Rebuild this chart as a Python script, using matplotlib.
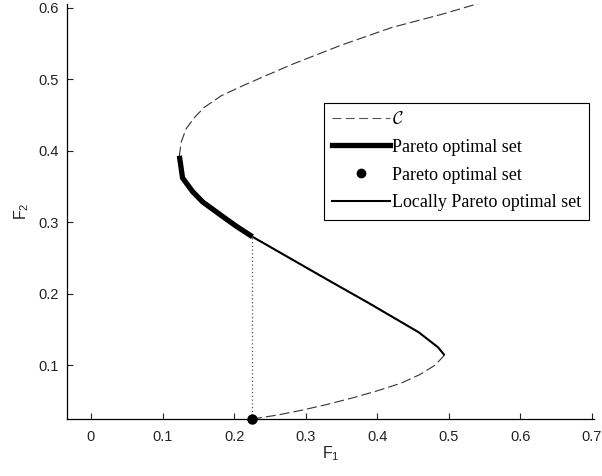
import matplotlib
matplotlib.use("Agg")
import matplotlib.pyplot as plt
from matplotlib.lines import Line2D

# Curve C (dashed), ordered along the curve
c_f1 = [0.225, 0.260, 0.295, 0.330, 0.365, 0.400, 0.434, 0.460, 0.481, 0.494,
        0.485, 0.458, 0.388, 0.328, 0.225,
        0.203, 0.180, 0.156, 0.142, 0.128, 0.1235,
        0.126, 0.133, 0.145, 0.1585, 0.182, 0.214, 0.251, 0.281,
        0.350, 0.420, 0.490, 0.541]
c_f2 = [0.0246, 0.030, 0.037, 0.045, 0.054, 0.064, 0.075, 0.087, 0.100, 0.114,
        0.125, 0.146, 0.187, 0.221, 0.280,
        0.2945, 0.311, 0.3285, 0.343, 0.362, 0.393,
        0.412, 0.431, 0.447, 0.461, 0.477, 0.492, 0.508, 0.521,
        0.548, 0.5725, 0.591, 0.606]

# Pareto optimal set (thick)
pareto_f1 = [0.1235, 0.128, 0.142, 0.156, 0.180, 0.203, 0.2257]
pareto_f2 = [0.393, 0.362, 0.343, 0.3285, 0.311, 0.2945, 0.2797]

# Isolated Pareto optimal point
point_f1 = [0.2249]
point_f2 = [0.0246]

# Locally Pareto optimal set
local_f1 = [0.2257, 0.328, 0.388, 0.458, 0.485, 0.494]
local_f2 = [0.2797, 0.221, 0.187, 0.146, 0.125, 0.114]

x_ticks = [0, 0.1, 0.2, 0.3, 0.4, 0.5, 0.6, 0.7]
y_ticks = [0.1, 0.2, 0.3, 0.4, 0.5, 0.6]

plt.rcParams['font.family'] = ['Liberation Sans', 'DejaVu Sans']
plt.rcParams['mathtext.fontset'] = 'custom'
plt.rcParams['mathtext.rm'] = 'Liberation Sans'
plt.rcParams['mathtext.it'] = 'Liberation Sans:italic'
plt.rcParams['mathtext.cal'] = 'cmsy10'

fig = plt.figure(figsize=(6.02, 4.76), dpi=100)
ax = fig.add_axes([67/602, 57/476, (594-67)/602, (472-57)/476])

ax.plot(c_f1, c_f2, color='#333333', lw=0.8, dashes=(9, 3.6))
ax.plot([point_f1[0], point_f1[0]], [point_f2[0], pareto_f2[-1]], color='#555555', lw=0.9, ls=(0, (1, 2)))
ax.plot(local_f1, local_f2, color='black', lw=1.5, solid_capstyle='butt')
ax.plot(pareto_f1, pareto_f2, color='black', lw=3.8, solid_capstyle='butt')
ax.plot(point_f1, point_f2, 'o', color='black', ms=6.5, clip_on=False, zorder=5)

ax.set_xlim(-0.0335, 0.703)
ax.set_ylim(0.0246, 0.6055)
ax.set_xticks(x_ticks)
ax.set_xticklabels(['0', '0.1', '0.2', '0.3', '0.4', '0.5', '0.6', '0.7'])
ax.set_yticks(y_ticks)
ax.set_yticklabels(['0.1', '0.2', '0.3', '0.4', '0.5', '0.6'])
ax.tick_params(direction='in', length=4, width=0.8, labelsize=10.5, colors='#222222', pad=6)
ax.tick_params(axis='x', pad=8)
for s in ['top', 'right']:
    ax.spines[s].set_visible(False)
for s in ['left', 'bottom']:
    ax.spines[s].set_linewidth(0.9)

ax.set_xlabel('F$_1$', fontsize=11.5, color='#222222', labelpad=0)
ax.set_ylabel('F$_2$', fontsize=11.5, color='#222222', labelpad=5)

handles = [
    Line2D([], [], color='#555555', lw=0.8, dashes=(8, 4)),
    Line2D([], [], color='black', lw=3.8),
    Line2D([], [], color='black', marker='o', ls='none', ms=6),
    Line2D([], [], color='black', lw=1.5),
]
labels = [r'$\mathcal{C}$', 'Pareto optimal set', 'Pareto optimal set', 'Locally Pareto optimal set']
leg = ax.legend(handles, labels, loc='upper right', bbox_to_anchor=(0.9905, 0.762),
                prop={'family': 'Liberation Serif', 'size': 13},
                frameon=True, fancybox=False, shadow=False, framealpha=1,
                edgecolor='black', handlelength=3.2, handletextpad=0.1,
                labelspacing=0.6, borderpad=0.45, borderaxespad=0)
leg.get_frame().set_linewidth(0.8)

fig.savefig('out.png', dpi=100)
